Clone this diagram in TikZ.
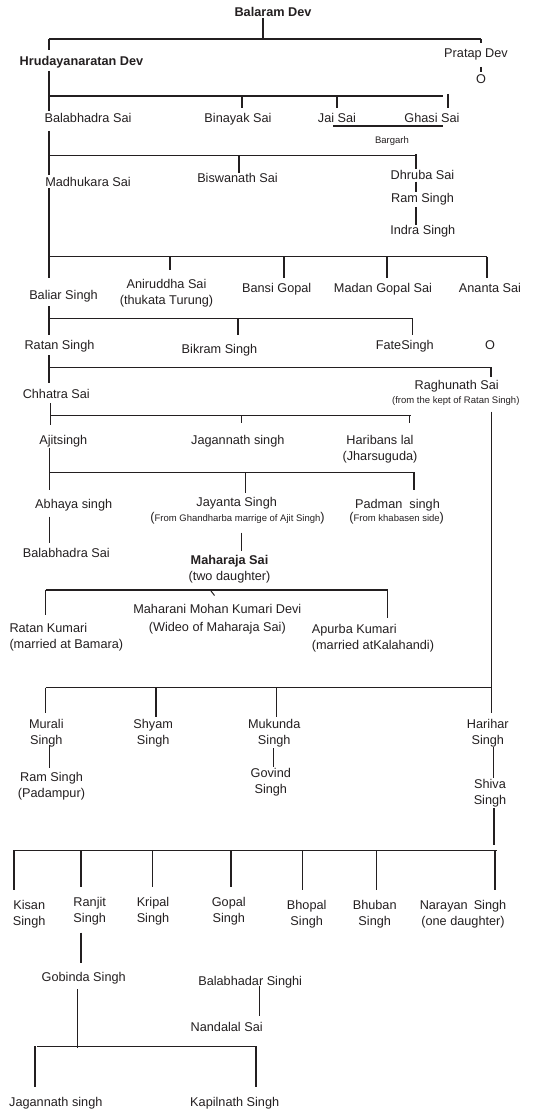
\documentclass[tikz,border=0pt]{standalone}
\usepackage{fontspec}
\setmainfont{Liberation Sans}
\definecolor{ink}{RGB}{35,31,32}
\newcommand{\bigp}[1]{{\fontsize{12.7}{12}\selectfont #1}}
\begin{document}
\begin{tikzpicture}[x=1pt,y=-1pt,
  lbl/.style={inner sep=0pt,text=ink,font=\fontsize{12.7}{16}\selectfont,align=center,anchor=north,yshift=4.55pt},
  lbll/.style={lbl,align=left,anchor=north west},
  bld/.style={lbl,font=\fontsize{12.7}{16}\selectfont\bfseries},
  sml/.style={inner sep=0pt,text=ink,font=\fontsize{9.5}{11}\selectfont,anchor=base},
  ln/.style={draw=ink,line width=1.4pt},
]
\useasboundingbox (0,0) rectangle (555,1113);

% ---------- nodes ----------
\node[bld] (balaram) at (273,12) {Balaram Dev};
\node[bld] (hrud) at (81.5,61) {Hrudayanaratan Dev};
\node[lbl] (pratap) at (476,53) {Pratap Dev};
\node[lbl] (pratapo) at (481,79) {O};
\node[lbl] (balabhadraA) at (88,118) {Balabhadra Sai};
\node[lbl] (binayak) at (238,118) {Binayak Sai};
\node[lbl] (jai) at (337,118) {Jai Sai};
\node[lbl] (ghasi) at (432,118) {Ghasi Sai};
\node[sml] (bargarh) at (392,143.4) {Bargarh};
\node[lbl] (madhukara) at (88,181.7) {Madhukara Sai};
\node[lbl] (biswanath) at (237.5,178) {Biswanath Sai};
\node[lbl] (dhruba) at (422.5,174.3) {Dhruba Sai};
\node[lbl] (ramA) at (422.5,197.7) {Ram Singh};
\node[lbl] (indra) at (422.8,230) {Indra Singh};
\node[lbl] (baliar) at (63.5,295) {Baliar Singh};
\node[lbl] (aniruddha) at (166.5,284) {Aniruddha Sai\\(thukata Turung)};
\node[lbl] (bansi) at (276.7,287.3) {Bansi Gopal};
\node[lbl] (madan) at (383,287.3) {Madan Gopal Sai};
\node[lbl] (ananta) at (490,287.3) {Ananta Sai};
\node[lbl] (ratan) at (59.5,345) {Ratan Singh};
\node[lbl] (bikram) at (219.5,348.3) {Bikram Singh};
\node[lbl] (fate) at (404.8,345) {FateSingh};
\node[lbl] (ratano) at (490,345) {O};
\node[lbl] (chhatra) at (56.3,393.3) {Chhatra Sai};
\node[lbl] (raghunath) at (456.7,385) {Raghunath Sai};
\node[sml] (raghunote) at (455.8,403.4) {(from the kept of Ratan Singh)};
\node[lbl] (ajit) at (63.3,440) {Ajitsingh};
\node[lbl] (jagannathA) at (237.8,440) {Jagannath singh};
\node[lbl] (haribans) at (380,440) {Haribans lal\\(Jharsuguda)};
\node[lbl] (abhaya) at (73.7,503.3) {Abhaya singh};
\node[lbl] (jayanta) at (236.7,501.7) {Jayanta Singh};
\node[sml] (jayantanote) at (237.5,521.7) {\bigp{(}From Ghandharba marrige of Ajit Singh\bigp{)}};
\node[lbl] (padman) at (397.5,503.3) {Padman\ \ singh};
\node[sml] (padmannote) at (396.7,521.7) {\bigp{(}From khabasen side\bigp{)}};
\node[lbl] (balabhadraB) at (66.3,552.7) {Balabhadra Sai};
\node[lbl] (maharaja) at (229.5,560) {\textbf{Maharaja Sai}\\(two daughter)};
\node[lbl] (maharani) at (217.3,608.3) {Maharani Mohan Kumari Devi\\[2.4pt](Wideo of Maharaja Sai)};
\node[lbll] (ratanK) at (9.3,627.7) {Ratan Kumari\\(married at Bamara)};
\node[lbll] (apurba) at (311.7,628.3) {Apurba Kumari\\(married atKalahandi)};
\node[lbl] (murali) at (46.3,723.3) {Murali\\Singh};
\node[lbl] (shyam) at (153.2,723.3) {Shyam\\Singh};
\node[lbl] (mukunda) at (274.2,723.3) {Mukunda\\Singh};
\node[lbl] (harihar) at (487.8,723.3) {Harihar\\Singh};
\node[lbl] (ramB) at (51.5,776.7) {Ram Singh\\(Padampur)};
\node[lbl] (govind) at (270.8,772.7) {Govind\\Singh};
\node[lbl] (shiva) at (490,784) {Shiva\\Singh};
\node[lbl] (kisan) at (29.2,905) {Kisan\\Singh};
\node[lbl] (ranjit) at (89.7,901.7) {Ranjit\\Singh};
\node[lbl] (kripal) at (153,901.7) {Kripal\\Singh};
\node[lbl] (gopal) at (228.8,901.7) {Gopal\\Singh};
\node[lbl] (bhopal) at (306.7,905) {Bhopal\\Singh};
\node[lbl] (bhuban) at (374.7,905) {Bhuban\\Singh};
\node[lbl] (narayan) at (463,905) {Narayan\hspace{6pt}Singh\\(one daughter)};
\node[lbl] (gobinda) at (83.7,976.7) {Gobinda Singh};
\node[lbl] (balabhadar) at (250.2,980.7) {Balabhadar Singhi};
\node[lbl] (nandalal) at (226.7,1026.7) {Nandalal Sai};
\node[lbl] (jagannathB) at (55.8,1101.7) {Jagannath singh};
\node[lbl] (kapilnath) at (234.7,1101.7) {Kapilnath Singh};

% ---------- connectors ----------
\draw[ln] (263,18) -- (263,39);
\draw[ln] (49,39) -- (481,39);
\draw[ln] (481,39) -- (481,43);
\draw[ln] (49,39) -- (49,50);
\draw[ln] (481,67) -- (481,72);
\draw[ln] (49,71) -- (49,111);
\draw[ln] (49,96) -- (443,96);
\draw[ln] (242,96) -- (242,108);
\draw[ln] (337,96) -- (337,108);
\draw[ln] (448,94) -- (448,108);
\draw[ln] (333,126) -- (443,126);
\draw[ln] (49,131) -- (49,175);
\draw[ln] (49,188) -- (49,256.7);
\draw[ln] (49,155.7) -- (416,155.7);
\draw[ln] (239,155.7) -- (239,172.7);
\draw[ln] (416,154) -- (416,169);
\draw[ln] (416,181.7) -- (416,191.5);
\draw[ln] (416,207.3) -- (416,225);
\draw[ln] (49,256.7) -- (487,256.7);
\draw[ln] (170,256.7) -- (170,270);
\draw[ln] (284,256.7) -- (284,278);
\draw[ln] (387,256.7) -- (387,278);
\draw[ln] (487,256.7) -- (487,278);
\draw[ln] (49,256.7) -- (49,278.3);
\draw[ln] (49,306) -- (49,335);
\draw[ln] (49,318.3) -- (411.7,318.3);
\draw[ln] (238,318.3) -- (238,335);
\draw[ln] (412.7,318.3) -- (412.7,335);
\draw[ln] (49,355) -- (49,383.3);
\draw[ln] (49,367.3) -- (491,367.3);
\draw[ln] (491,367.3) -- (491,376.7);
\draw[ln] (50.3,403.3) -- (50.3,425);
\draw[ln] (50.3,415.7) -- (411,415.7);
\draw[ln] (241.7,415.7) -- (241.7,423.3);
\draw[ln] (409.3,415.7) -- (409.3,423);
\draw[ln] (491.5,411.7) -- (491.5,713.3);
\draw[ln] (49.3,448.3) -- (49.3,490);
\draw[ln] (49.3,472.7) -- (415,472.7);
\draw[ln] (245.7,472.7) -- (245.7,493.3);
\draw[ln] (414,472.7) -- (414,490);
\draw[ln] (49.3,516.7) -- (49.3,543.3);
\draw[ln] (241.7,532.7) -- (241.7,550.7);
\draw[ln] (45.7,590) -- (387.7,590);
\draw[ln] (45.7,590) -- (45.7,615);
\draw[ln] (387.7,590) -- (387.7,618.3);
\draw[draw=ink,line width=1pt] (211,591) -- (214.5,595.5);
\draw[ln] (45.7,687.7) -- (491.5,687.7);
\draw[ln] (45.7,687.7) -- (45.7,712.7);
\draw[ln] (156,687.7) -- (156,716.7);
\draw[ln] (276.7,687.7) -- (276.7,716.7);
\draw[ln] (49.3,745) -- (49.3,768.3);
\draw[ln] (273.3,748.3) -- (273.3,766.7);
\draw[ln] (493.3,746.7) -- (493.3,778.3);
\draw[ln] (494,808.3) -- (494,845);
\draw[ln] (15,850.7) -- (496.7,850.7);
\draw[ln] (14,850) -- (14,890);
\draw[ln] (81,850.7) -- (81,886.7);
\draw[ln] (152.7,850.7) -- (152.7,886.7);
\draw[ln] (231,850.7) -- (231,886.7);
\draw[ln] (302.3,850.7) -- (302.3,890);
\draw[ln] (376.7,850.7) -- (376.7,890);
\draw[ln] (495,850.7) -- (495,890);
\draw[ln] (81,932.7) -- (81,962.7);
\draw[ln] (77.7,989.3) -- (77.7,1047.5);
\draw[ln] (259.3,986) -- (259.3,1016);
\draw[ln] (37.3,1046.7) -- (256,1046.7);
\draw[ln] (35,1046) -- (35,1086.7);
\draw[ln] (256,1046) -- (256,1086.7);
\end{tikzpicture}
\end{document}
